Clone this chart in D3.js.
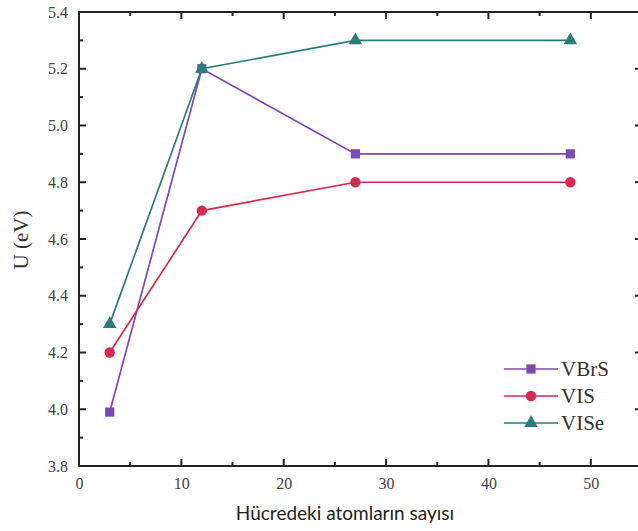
<!DOCTYPE html>
<html>
<head>
<meta charset="utf-8">
<script src="https://cdn.jsdelivr.net/npm/d3@7"></script>
<style>
  html, body { margin: 0; padding: 0; background: #fff; }
  svg { display: block; }
  .serif { font-family: "Liberation Serif", "Times New Roman", Times, serif; }
</style>
</head>
<body>
<svg id="chart" width="638" height="531"></svg>
<script>
// Number of atoms in the cell and Hubbard U values (eV)
const atoms = [3, 12, 27, 48];
const uVBrS = [3.99, 5.2, 4.9, 4.9];
const uVIS  = [4.2, 4.7, 4.8, 4.8];
const uVISe = [4.3, 5.2, 5.3, 5.3];
const seriesNames = ["VBrS", "VIS", "VISe"];
const seriesColors = ["#7b4ab4", "#d62a50", "#2a7d76"];
const seriesShapes = [d3.symbolSquare, d3.symbolCircle, d3.symbolTriangle];
const xTicks = [0, 10, 20, 30, 40, 50];
const yTicks = [3.8, 4.0, 4.2, 4.4, 4.6, 4.8, 5.0, 5.2, 5.4];

const series = [uVBrS, uVIS, uVISe].map((vals, i) => ({
  name: seriesNames[i],
  color: seriesColors[i],
  shape: seriesShapes[i],
  points: atoms.map((a, j) => ({ x: a, y: vals[j] }))
}));

const svg = d3.select("#chart");
const x = d3.scaleLinear().domain([0, 55]).range([79, 642]);
const y = d3.scaleLinear().domain([3.8, 5.4]).range([466, 12]);

const axisColor = "#222";

// Minor ticks
const xMinor = d3.range(5, 55, 10);
const yMinor = d3.range(3.9, 5.4, 0.2);

const frame = svg.append("g");
// Frame spines
frame.append("rect")
  .attr("x", x(0)).attr("y", y(5.4))
  .attr("width", x(55) - x(0)).attr("height", y(3.8) - y(5.4))
  .attr("fill", "none").attr("stroke", axisColor).attr("stroke-width", 2);

// Inward ticks on all sides
function tickLines(vals, len, orient) {
  vals.forEach(v => {
    if (orient === "bottom") frame.append("line").attr("x1", x(v)).attr("x2", x(v)).attr("y1", y(3.8)).attr("y2", y(3.8) - len);
    if (orient === "top") frame.append("line").attr("x1", x(v)).attr("x2", x(v)).attr("y1", y(5.4)).attr("y2", y(5.4) + len);
    if (orient === "left") frame.append("line").attr("x1", x(0)).attr("x2", x(0) + len).attr("y1", y(v)).attr("y2", y(v));
    if (orient === "right") frame.append("line").attr("x1", x(55)).attr("x2", x(55) - len).attr("y1", y(v)).attr("y2", y(v));
  });
}
tickLines(xTicks, 7, "bottom");
tickLines(xTicks, 7, "top");
tickLines(xMinor, 4, "bottom");
tickLines(xMinor, 4, "top");
tickLines(yTicks, 7, "left");
tickLines(yTicks, 7, "right");
tickLines(yMinor, 4, "left");
tickLines(yMinor, 4, "right");
frame.selectAll("line").attr("stroke", axisColor).attr("stroke-width", 2);

// Tick labels via d3 axes (lines hidden)
const xAxis = svg.append("g")
  .attr("transform", `translate(0,${y(3.8)})`)
  .call(d3.axisBottom(x).tickValues(xTicks).tickSize(0).tickPadding(12).tickFormat(d3.format("d")));
const yAxis = svg.append("g")
  .attr("transform", `translate(${x(0)},0)`)
  .call(d3.axisLeft(y).tickValues(yTicks).tickSize(0).tickPadding(11).tickFormat(d3.format(".1f")));
[xAxis, yAxis].forEach(g => {
  g.attr("font-family", null);
  g.select(".domain").remove();
  g.selectAll("text").attr("class", "serif").attr("font-size", 16).attr("fill", "#444");
});

// Axis titles
svg.append("text")
  .attr("class", "serif")
  .attr("transform", "translate(28,240) rotate(-90)")
  .attr("text-anchor", "middle")
  .attr("font-size", 21).attr("fill", "#333")
  .text("U (eV)");
svg.append("text")
  .attr("x", 345).attr("y", 520)
  .attr("text-anchor", "middle")
  .attr("font-family", "Lato, 'Open Sans', sans-serif").attr("font-size", 19).attr("fill", "#222")
  .text("Hücredeki atomların sayısı");

// Lines and markers
const line = d3.line().x(d => x(d.x)).y(d => y(d.y));
const plot = svg.append("g");
series.forEach(s => {
  plot.append("path")
    .datum(s.points)
    .attr("d", line)
    .attr("fill", "none")
    .attr("stroke", s.color)
    .attr("stroke-width", 1.7);
  plot.selectAll(null)
    .data(s.points)
    .enter().append("path")
    .attr("transform", d => `translate(${x(d.x)},${y(d.y)})`)
    .attr("d", d3.symbol().type(s.shape).size(s.shape === d3.symbolTriangle ? 80 : 85))
    .attr("fill", s.color);
});

// Legend
const legend = svg.append("g").attr("transform", "translate(504,369)");
series.forEach((s, i) => {
  const g = legend.append("g").attr("transform", `translate(0,${i * 27})`);
  g.append("line").attr("x1", 0).attr("x2", 54).attr("y1", 0).attr("y2", 0)
    .attr("stroke", s.color).attr("stroke-width", 1.7);
  g.append("path").attr("transform", "translate(27,0)")
    .attr("d", d3.symbol().type(s.shape).size(s.shape === d3.symbolTriangle ? 80 : 85))
    .attr("fill", s.color);
  g.append("text").attr("class", "serif").attr("x", 57).attr("y", 7)
    .attr("font-size", 21).attr("fill", "#333")
    .text(s.name);
});
</script>
</body>
</html>
